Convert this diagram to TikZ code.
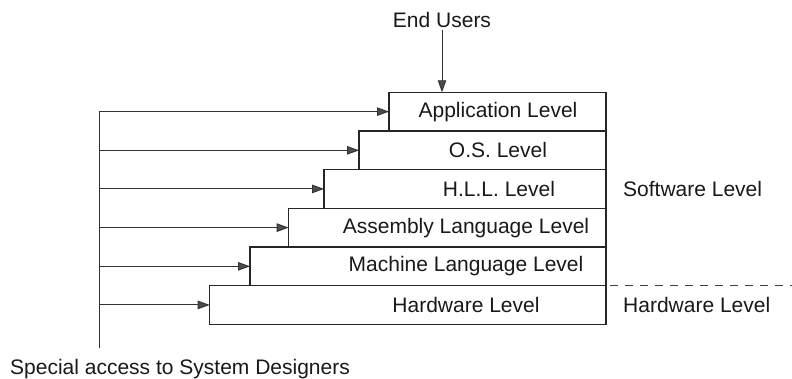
\documentclass[tikz,border=0pt]{standalone}
\usepackage{fontspec}
\setmainfont{Liberation Sans}
\usetikzlibrary{arrows.meta}
\begin{document}
\begin{tikzpicture}[x=1pt,y=-1pt,
  lvl/.style={draw=black!85, line width=1.1pt, rectangle, inner sep=0pt,
    outer sep=0pt, minimum height=38.67pt, anchor=north east},
  txt/.style={font=\fontsize{21}{25}\selectfont, text=black!90, inner sep=2pt},
  wire/.style={draw=black!80, line width=0.9pt},
  feed/.style={wire, -{Triangle[length=12pt,width=8.5pt,fill=black!70]}},
]
\useasboundingbox (0,0) rectangle (792,379);

% staircase of levels, all sharing the right edge
\node[lvl, minimum width=217pt]   (app)  at (606,92.3)  {};
\node[lvl, minimum width=247pt]   (os)   at (606,131.0) {};
\node[lvl, minimum width=282pt]   (hll)  at (606,169.6) {};
\node[lvl, minimum width=317.3pt] (asm)  at (606,208.3) {};
\node[lvl, minimum width=356pt]   (mach) at (606,247.0) {};
\node[lvl, minimum width=396.3pt] (hw)   at (606,285.6) {};

% level names
\node[txt] (appT)  at (498,111.6) {Application Level};
\node[txt] (osT)   at (498,150.3) {O.S. Level};
\node[txt] (hllT)  at (499,189.0) {H.L.L. Level};
\node[txt] (asmT)  at (466,227.6) {Assembly Language Level};
\node[txt] (machT) at (466,266.3) {Machine Language Level};
\node[txt] (hwT)   at (466,305.0) {Hardware Level};

% end users enter at the top
\node[txt] (users) at (442,19.7) {End Users};
\draw[feed] (users.south) -- (app.north -| users.south);

% designers' access bus on the left
\coordinate (busTop) at (99,111.6);
\coordinate (busEnd) at (99,347.7);
\draw[wire] (busTop |- app.west) -- (busEnd);
\foreach \b in {app,os,hll,asm,mach,hw}
  \draw[feed] (busTop |- \b.west) -- (\b.west);
\node[txt, anchor=west] (designers) at (8,369) {Special access to System Designers};

% software / hardware split
\coordinate (splitEnd) at (792,285.6);
\draw[draw=black!75, line width=0.9pt, dash pattern=on 8pt off 7pt]
  ([xshift=4pt]hw.north east) -- (splitEnd);
\node[txt, anchor=west] (sw) at (621,188.5) {Software Level};
\node[txt, anchor=west] (hwside) at (621,305) {Hardware Level};
\end{tikzpicture}
\end{document}
